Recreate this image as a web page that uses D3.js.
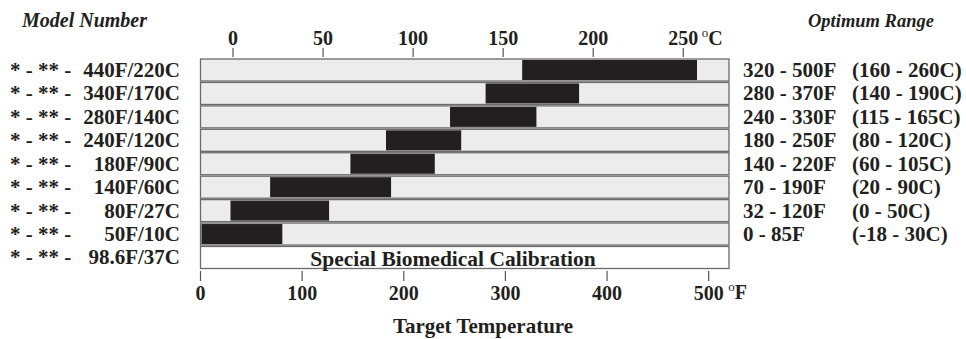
<!DOCTYPE html>
<html>
<head>
<meta charset="utf-8">
<script src="https://cdn.jsdelivr.net/npm/d3@7"></script>
<style>
  body { margin: 0; background: #fff; }
  text { font-family: 'Liberation Serif', 'Times New Roman', serif; font-weight: bold; fill: #231f20; }
</style>
</head>
<body>
<div class="chartcontainer"></div>
<script>
// model rows, top to bottom
const prefixes = ['* - ** -', '* - ** -', '* - ** -', '* - ** -', '* - ** -', '* - ** -', '* - ** -', '* - ** -', '* - ** -'];
const models = ['440F/220C', '340F/170C', '280F/140C', '240F/120C', '180F/90C', '140F/60C', '80F/27C', '50F/10C', '98.6F/37C'];
// dark range bars in deg F, as drawn
const rangeStart = [317, 281, 246, 183, 148, 69, 30, 0, null];
const rangeEnd = [489, 373, 331, 257, 231, 188, 127, 81, null];
const optimumF = ['320 - 500F', '280 - 370F', '240 - 330F', '180 - 250F', '140 - 220F', '70 - 190F', '32 - 120F', '0 - 85F', ''];
const optimumC = ['(160 - 260C)', '(140 - 190C)', '(115 - 165C)', '(80 - 120C)', '(60 - 105C)', '(20 - 90C)', '(0 - 50C)', '(-18 - 30C)', ''];
const specialLabel = 'Special Biomedical Calibration';
const fTicks = [0, 100, 200, 300, 400, 500];
const cTicks = [0, 50, 100, 150, 200, 250];

const width = 966;
const height = 339;

const svg = d3
  .select('.chartcontainer')
  .append('svg')
  .attr('width', width)
  .attr('height', height);

const x = d3.scaleLinear().domain([0, 520]).range([200, 728.5]);
// the printed celsius scale runs a touch short of the true conversion
const xc = d3.scaleLinear().domain([0, 250]).range([x(32), x(475)]);

const y = d3
  .scaleBand()
  .domain(models)
  .range([59, 268.5])
  .paddingInner(0.06);

const rows = models.map((m, i) => ({
  model: m,
  prefix: prefixes[i],
  start: rangeStart[i],
  end: rangeEnd[i],
  optF: optimumF[i],
  optC: optimumC[i],
}));

// row boxes
svg
  .selectAll('.rowbox')
  .data(rows)
  .enter()
  .append('rect')
  .attr('class', 'rowbox')
  .attr('x', x(0) + 0.5)
  .attr('y', d => y(d.model))
  .attr('width', x(520) - x(0))
  .attr('height', y.bandwidth())
  .attr('fill', d => (d.start === null ? '#ffffff' : '#ececec'))
  .attr('stroke', '#6a6a6a')
  .attr('stroke-width', 1.3);

// range bars
svg
  .selectAll('.bar')
  .data(rows.filter(d => d.start !== null))
  .enter()
  .append('rect')
  .attr('class', 'bar')
  .attr('x', d => Math.max(x(d.start), x(0) + 1.5))
  .attr('y', d => y(d.model) + 1)
  .attr('width', d => x(d.end) - Math.max(x(d.start), x(0) + 1.5))
  .attr('height', y.bandwidth() - 2)
  .attr('fill', '#231f20');

svg
  .append('text')
  .attr('x', x(249))
  .attr('y', y(models[8]) + y.bandwidth() - 2.5)
  .attr('text-anchor', 'middle')
  .style('font-size', '21.5px')
  .text(specialLabel);

// left labels
const left = svg.selectAll('.leftlabel').data(rows).enter().append('g').attr('class', 'leftlabel');
left
  .append('text')
  .attr('x', 10)
  .attr('y', d => y(d.model) + y.bandwidth() / 2 + 7)
  .style('font-size', '21px')
  .text(d => d.prefix);
left
  .append('text')
  .attr('x', 180)
  .attr('y', d => y(d.model) + y.bandwidth() / 2 + 7)
  .attr('text-anchor', 'end')
  .style('font-size', '21px')
  .text(d => d.model);

// right labels
const right = svg.selectAll('.rightlabel').data(rows).enter().append('g').attr('class', 'rightlabel');
right
  .append('text')
  .attr('x', 743)
  .attr('y', d => y(d.model) + y.bandwidth() / 2 + 7)
  .style('font-size', '21px')
  .text(d => d.optF);
right
  .append('text')
  .attr('x', 852)
  .attr('y', d => y(d.model) + y.bandwidth() / 2 + 7)
  .style('font-size', '21px')
  .text(d => d.optC);

// headers
svg
  .append('text')
  .attr('x', 22)
  .attr('y', 27)
  .style('font-size', '20px')
  .style('font-style', 'italic')
  .text('Model Number');
svg
  .append('text')
  .attr('x', 808)
  .attr('y', 27)
  .style('font-size', '18.5px')
  .style('font-style', 'italic')
  .text('Optimum Range');

// axes
const topAxis = svg
  .append('g')
  .attr('transform', 'translate(0,57)')
  .call(d3.axisTop(xc).tickValues(cTicks).tickSize(9).tickPadding(3));
const bottomAxis = svg
  .append('g')
  .attr('transform', 'translate(0,271)')
  .call(d3.axisBottom(x).tickValues(fTicks).tickSize(10).tickPadding(5));

[topAxis, bottomAxis].forEach(g => {
  g.select('.domain').remove();
  g.selectAll('.tick line').attr('stroke', '#555').attr('stroke-width', 1.2);
  g.selectAll('.tick text')
    .attr('fill', '#231f20')
    .style('font-family', "'Liberation Serif', 'Times New Roman', serif")
    .style('font-weight', 'bold')
    .style('font-size', '20px');
});

function unit(xpos, ypos, letter) {
  const t = svg
    .append('text')
    .attr('x', xpos)
    .attr('y', ypos)
    .style('font-size', '20px');
  t.append('tspan').attr('dy', -8).style('font-size', '13px').style('font-weight', 'normal').text('o');
  t.append('tspan').attr('dy', 8).text(letter);
}
unit(xc(250) + 19, 45, 'C');
unit(x(500) + 20, 299, 'F');

svg
  .append('text')
  .attr('x', 483)
  .attr('y', 333)
  .attr('text-anchor', 'middle')
  .style('font-size', '21px')
  .text('Target Temperature');
</script>
</body>
</html>
